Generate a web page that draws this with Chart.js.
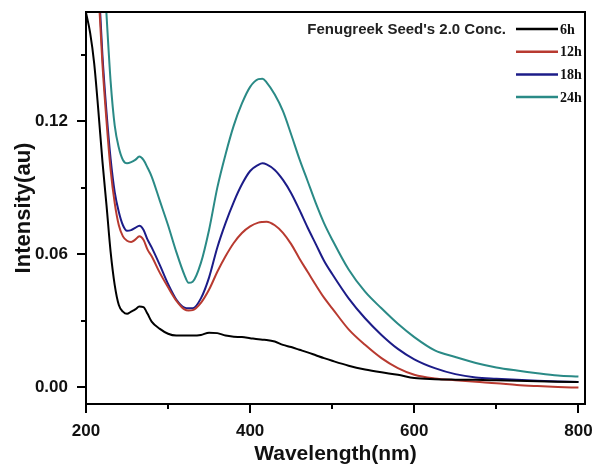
<!DOCTYPE html>
<html>
<head>
<meta charset="utf-8">
<title>Fenugreek Seed's 2.0 Conc.</title>
<script src="https://cdn.jsdelivr.net/npm/chart.js@4.4.1/dist/chart.umd.min.js"></script>
<style>
  html, body { margin: 0; padding: 0; background: #fff; }
  canvas { display: block; }
</style>
</head>
<body>
<canvas id="spectra" width="595" height="467"></canvas>
<script>
// wavelength (nm) shared by all curves
const wavelengths = [200, 205, 210, 215, 220, 225, 230, 235, 240, 245, 250, 255, 260, 265, 270, 275, 280, 290, 300, 310, 320, 325, 330, 340, 350, 360, 370, 380, 390, 400, 410, 415, 420, 430, 440, 450, 460, 470, 480, 490, 500, 520, 540, 560, 580, 600, 625, 650, 675, 700, 725, 750, 775, 800];

const series6h = [0.169, 0.160, 0.146, 0.125, 0.102, 0.082, 0.061, 0.046, 0.037, 0.034, 0.033, 0.034, 0.035, 0.0363, 0.036, 0.033, 0.0295, 0.0262, 0.024, 0.0232, 0.0232, 0.0232, 0.0232, 0.0235, 0.0245, 0.0243, 0.0232, 0.0227, 0.0225, 0.022, 0.0215, 0.0213, 0.0212, 0.0205, 0.019, 0.018, 0.0168, 0.0156, 0.0143, 0.013, 0.0118, 0.0096, 0.0079, 0.0066, 0.0055, 0.004, 0.0035, 0.0033, 0.0032, 0.003, 0.0028, 0.0026, 0.0024, 0.0022];
const series12h = [0.30, 0.26, 0.22, 0.18, 0.146, 0.120, 0.098, 0.083, 0.073, 0.068, 0.066, 0.0655, 0.0665, 0.068, 0.0665, 0.062, 0.059, 0.0515, 0.045, 0.039, 0.035, 0.0345, 0.0347, 0.038, 0.044, 0.052, 0.059, 0.065, 0.0695, 0.0725, 0.0742, 0.0745, 0.0746, 0.073, 0.0696, 0.0645, 0.058, 0.052, 0.046, 0.0403, 0.0355, 0.026, 0.019, 0.013, 0.0085, 0.0055, 0.0038, 0.003, 0.0023, 0.0017, 0.0009, 0.0004, 0.0, -0.0003];
const series18h = [0.31, 0.27, 0.23, 0.185, 0.150, 0.124, 0.103, 0.088, 0.079, 0.073, 0.0705, 0.0708, 0.0718, 0.0728, 0.071, 0.0665, 0.063, 0.055, 0.0465, 0.0395, 0.0358, 0.0355, 0.0355, 0.040, 0.0495, 0.063, 0.074, 0.0835, 0.0915, 0.0975, 0.1003, 0.101, 0.1005, 0.098, 0.0935, 0.0875, 0.080, 0.072, 0.0645, 0.057, 0.051, 0.040, 0.031, 0.0235, 0.0172, 0.0125, 0.0085, 0.0058, 0.0043, 0.0037, 0.0032, 0.0028, 0.0025, 0.0022];
const series24h = [0.40, 0.34, 0.29, 0.24, 0.20, 0.168, 0.138, 0.118, 0.108, 0.1025, 0.101, 0.1015, 0.1025, 0.104, 0.1025, 0.099, 0.095, 0.084, 0.073, 0.061, 0.0505, 0.047, 0.0475, 0.056, 0.071, 0.090, 0.105, 0.118, 0.128, 0.1355, 0.139, 0.1392, 0.1375, 0.132, 0.1245, 0.114, 0.103, 0.093, 0.083, 0.074, 0.0665, 0.053, 0.043, 0.0355, 0.0285, 0.0225, 0.0165, 0.0135, 0.0108, 0.0088, 0.0074, 0.0062, 0.0052, 0.0047];

const seriesLabels = ['6h', '12h', '18h', '24h'];
const seriesColors = ['#000000', '#b83a30', '#1c1c88', '#2a8a86'];
const legendTitle = "Fenugreek Seed's 2.0 Conc.";

const xTicks = [200, 300, 400, 500, 600, 700, 800];
const xLabels = [200, 400, 600, 800];
const yTicks = [0, 0.03, 0.06, 0.09, 0.12, 0.15];
const yLabels = [0, 0.06, 0.12];

const allSeries = [series6h, series12h, series18h, series24h];

function toPoints(values) {
    return wavelengths.map((w, i) => ({ x: w, y: values[i] }));
}

// frame around the plot + outward ticks (long for labelled, short for the rest)
const frameAndTicks = {
    id: 'frameAndTicks',
    afterDraw(chart) {
        const ctx = chart.ctx;
        const a = chart.chartArea;
        const xs = chart.scales.x, ys = chart.scales.y;
        ctx.save();
        ctx.strokeStyle = '#000';
        ctx.lineWidth = 2;
        ctx.strokeRect(a.left, a.top, a.right - a.left, a.bottom - a.top);
        ctx.beginPath();
        xTicks.forEach(v => {
            const px = Math.round(xs.getPixelForValue(v));
            const len = xLabels.includes(v) ? 9 : 5;
            ctx.moveTo(px, a.bottom);
            ctx.lineTo(px, a.bottom + len);
        });
        yTicks.forEach(v => {
            const py = Math.round(ys.getPixelForValue(v));
            const len = yLabels.includes(v) ? 9 : 5;
            ctx.moveTo(a.left, py);
            ctx.lineTo(a.left - len, py);
        });
        ctx.stroke();
        ctx.restore();
    }
};

// legend in the top right corner with its title on the first row
const cornerLegend = {
    id: 'cornerLegend',
    afterDraw(chart) {
        const ctx = chart.ctx;
        const lineX0 = 516, lineX1 = 558, rowY0 = 29, rowGap = 22.7;
        ctx.save();
        ctx.textBaseline = 'middle';
        ctx.fillStyle = '#222';
        ctx.font = 'bold 15px "Liberation Sans", Arial, sans-serif';
        ctx.textAlign = 'right';
        ctx.fillText(legendTitle, lineX0 - 10, rowY0 + 1);
        ctx.textAlign = 'left';
        ctx.font = 'bold 14px "Liberation Serif", "Times New Roman", serif';
        chart.data.datasets.forEach((ds, i) => {
            const y = rowY0 + i * rowGap;
            ctx.strokeStyle = ds.borderColor;
            ctx.lineWidth = 2.5;
            ctx.beginPath();
            ctx.moveTo(lineX0, y);
            ctx.lineTo(lineX1, y);
            ctx.stroke();
            ctx.fillStyle = '#111';
            ctx.fillText(ds.label, lineX1 + 2, y + 1);
        });
        ctx.restore();
    }
};

const tickFont = { family: '"Liberation Sans", Arial, sans-serif', size: 17, weight: 'bold' };

new Chart(document.getElementById('spectra'), {
    type: 'line',
    data: {
        datasets: allSeries.map((vals, i) => ({
            label: seriesLabels[i],
            data: toPoints(vals),
            borderColor: seriesColors[i],
            backgroundColor: seriesColors[i],
            borderWidth: 2,
            pointRadius: 0,
            cubicInterpolationMode: 'monotone',
            fill: false
        }))
    },
    options: {
        responsive: false,
        animation: false,
        devicePixelRatio: 1,
        layout: { padding: { top: 12, right: 10, left: 0, bottom: 0 } },
        plugins: {
            legend: { display: false },
            tooltip: { enabled: false }
        },
        scales: {
            x: {
                type: 'linear',
                min: 200,
                max: 808,
                afterBuildTicks: s => { s.ticks = xTicks.map(v => ({ value: v })); },
                afterFit: s => { s.height = 63; s.paddingLeft = 0; s.paddingRight = 0; },
                grid: { display: false, drawTicks: false },
                border: { display: false },
                ticks: {
                    color: '#111',
                    font: tickFont,
                    padding: 17,
                    maxRotation: 0,
                    autoSkip: false,
                    callback: v => xLabels.includes(v) ? String(v) : ''
                },
                title: {
                    display: true,
                    text: 'Wavelength(nm)',
                    color: '#111',
                    font: { family: '"Liberation Sans", Arial, sans-serif', size: 21, weight: 'bold' },
                    padding: { top: 0, bottom: 0 }
                }
            },
            y: {
                type: 'linear',
                min: -0.0077,
                max: 0.1693,
                afterBuildTicks: s => { s.ticks = yTicks.map(v => ({ value: v })); },
                afterFit: s => { s.width = 86; s.paddingTop = 0; s.paddingBottom = 0; },
                grid: { display: false, drawTicks: false },
                border: { display: false },
                ticks: {
                    color: '#111',
                    font: tickFont,
                    padding: 18,
                    autoSkip: false,
                    callback: v => yLabels.some(l => Math.abs(l - v) < 1e-9) ? v.toFixed(2) : ''
                },
                title: {
                    display: true,
                    text: 'Intensity(au)',
                    color: '#111',
                    font: { family: '"Liberation Sans", Arial, sans-serif', size: 22, weight: 'bold' },
                    padding: { top: 11, bottom: 0 }
                }
            }
        }
    },
    plugins: [frameAndTicks, cornerLegend]
});
</script>
</body>
</html>
